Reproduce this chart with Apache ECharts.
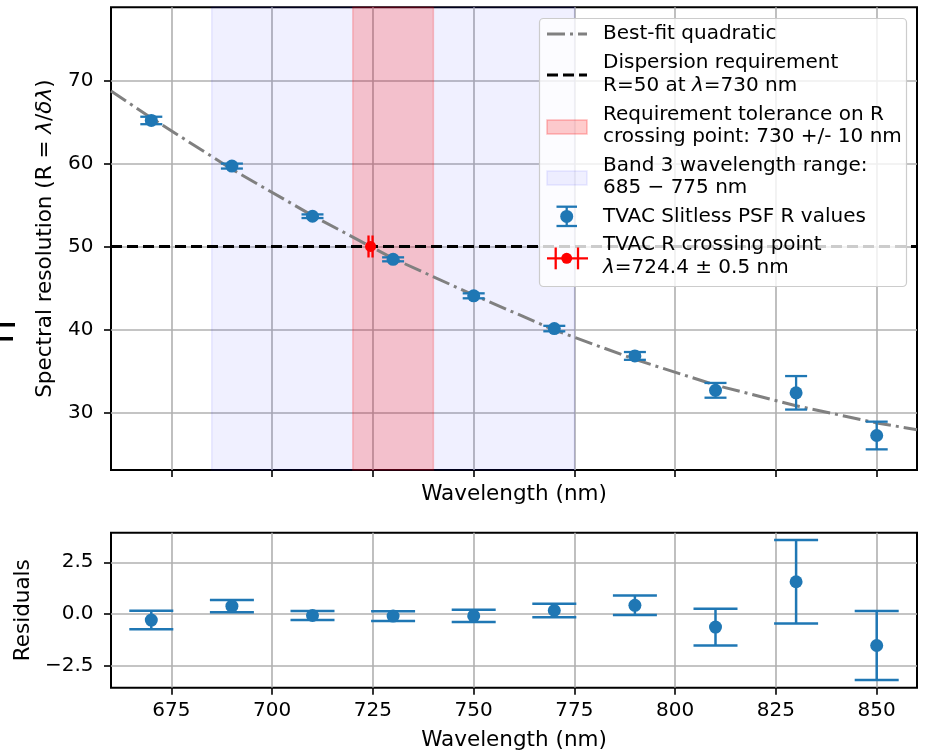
<!DOCTYPE html>
<html>
<head>
<meta charset="utf-8">
<script src="https://cdn.jsdelivr.net/npm/echarts@6/dist/echarts.min.js"></script>
<style>
  html, body { margin: 0; padding: 0; background: #fff; }
  #chart { width: 925px; height: 754px; }
</style>
</head>
<body>
<div id="chart"></div>
<script>
// Measured spectral resolution per wavelength (nm), with 1-sigma errors
const wavelengths = [670, 690, 710, 730, 750, 770, 790, 810, 830, 850];
const resolution = [65.2, 59.7, 53.65, 48.45, 44.05, 40.1, 36.8, 32.65, 32.35, 27.2];
const resolutionErr = [0.45, 0.3, 0.22, 0.24, 0.3, 0.33, 0.47, 0.89, 2.02, 1.67];
// Residuals of the measurements about the quadratic fit
const residuals = [-0.29, 0.38, -0.07, -0.1, -0.09, 0.17, 0.42, -0.63, 1.56, -1.52];
// Best-fit quadratic sampled across the plotted range
const fitWavelengths = [660, 670, 690, 710, 730, 750, 770, 790, 810, 830, 850, 860];
const fitValues = [68.75, 65.49, 59.32, 53.72, 48.55, 44.14, 39.93, 36.38, 33.28, 30.79, 28.72, 27.9];
// R = 50 crossing point
const crossingWavelength = [724.4];
const crossingErr = [0.5];
const crossingR = [50];
const requirementR = 50;
const toleranceBand = [720, 740];
const band3Range = [685, 775];
// Tick positions
const xTicks = [675, 700, 725, 750, 775, 800, 825, 850];
const yTicksTop = [30, 40, 50, 60, 70];
const yTicksResid = [-2.5, 0, 2.5];

const FONT = 'DejaVu Sans';
const BLUE = '#1f77b4';
const GRID_COLOR = '#b0b0b0';
const TICK_FS = 20;
const LABEL_FS = 21.5;
const LEGEND_FS = 20;

const chart = echarts.init(document.getElementById('chart'), null, { renderer: 'canvas' });

function verticalErrorBars(capHalf, lineWidth, color) {
  return function (params, api) {
    const x = api.value(0), y = api.value(1), e = api.value(2);
    const top = api.coord([x, y + e]);
    const bot = api.coord([x, y - e]);
    const style = { stroke: color, lineWidth: lineWidth, fill: null };
    return {
      type: 'group',
      children: [
        { type: 'line', shape: { x1: top[0], y1: top[1], x2: bot[0], y2: bot[1] }, style },
        { type: 'line', shape: { x1: top[0] - capHalf, y1: top[1], x2: top[0] + capHalf, y2: top[1] }, style },
        { type: 'line', shape: { x1: bot[0] - capHalf, y1: bot[1], x2: bot[0] + capHalf, y2: bot[1] }, style }
      ]
    };
  };
}

function horizontalErrorBar(capHalf, lineWidth, color) {
  return function (params, api) {
    const x = api.value(0), y = api.value(1), e = api.value(2);
    const l = api.coord([x - e, y]);
    const r = api.coord([x + e, y]);
    const style = { stroke: color, lineWidth: lineWidth, fill: null };
    return {
      type: 'group',
      children: [
        { type: 'line', shape: { x1: l[0], y1: l[1], x2: r[0], y2: r[1] }, style },
        { type: 'line', shape: { x1: l[0], y1: l[1] - capHalf, x2: l[0], y2: l[1] + capHalf }, style },
        { type: 'line', shape: { x1: r[0], y1: r[1] - capHalf, x2: r[0], y2: r[1] + capHalf }, style }
      ]
    };
  };
}

const tickStyle = { show: true, length: 7, inside: false, lineStyle: { color: '#000', width: 1.6 } };
const splitStyle = { show: true, lineStyle: { color: GRID_COLOR, width: 1.6 } };
const labelStyle = { color: '#000', fontFamily: FONT, fontSize: TICK_FS };
const nameStyle = {
  color: '#000', fontFamily: FONT, fontSize: LABEL_FS,
  rich: { i: { fontStyle: 'italic', fontFamily: FONT, fontSize: LABEL_FS, color: '#000' } }
};
const minus = v => (v < 0 ? '\u2212' : '') + Math.abs(v).toFixed(1);

// Legend drawn as a framed box of handles and labels
const LX = 547, LW = 40, TX = 603;
const legendText = (y, text) => ({
  type: 'text', x: TX, y: y,
  style: {
    text: text, font: LEGEND_FS + 'px "DejaVu Sans"', fill: '#000',
    verticalAlign: 'middle', align: 'left', lineHeight: 22.3,
    rich: { i: { fontStyle: 'italic', fontFamily: FONT, fontSize: LEGEND_FS, fill: '#000', lineHeight: 22.3 } }
  }
});
const legendItems = [
  { type: 'rect', shape: { x: 539.5, y: 18.5, width: 367, height: 268, r: 4 },
    style: { fill: 'rgba(255,255,255,0.8)', stroke: '#cccccc', lineWidth: 1.2 } },
  { type: 'line', shape: { x1: LX, y1: 34, x2: LX + LW, y2: 34 },
    style: { stroke: '#808080', lineWidth: 3, lineDash: [18, 5, 3, 5] } },
  legendText(34, 'Best-fit quadratic'),
  { type: 'line', shape: { x1: LX, y1: 75, x2: LX + LW, y2: 75 },
    style: { stroke: '#000', lineWidth: 3, lineDash: [11, 5] } },
  legendText(74.2, 'Dispersion requirement\nR=50 at {i|λ}=730 nm'),
  { type: 'rect', shape: { x: LX, y: 120, width: LW, height: 14 },
    style: { fill: 'rgba(255,0,0,0.2)', stroke: 'rgba(255,0,0,0.25)', lineWidth: 1.5 } },
  legendText(125.5, 'Requirement tolerance on R\ncrossing point: 730 +/- 10 nm'),
  { type: 'rect', shape: { x: LX, y: 171, width: LW, height: 14 },
    style: { fill: 'rgba(0,0,255,0.06)', stroke: 'rgba(0,0,255,0.08)', lineWidth: 1.5 } },
  legendText(176.5, 'Band 3 wavelength range:\n685 \u2212 775 nm'),
  { type: 'line', shape: { x1: 566.7, y1: 206.7, x2: 566.7, y2: 226 }, style: { stroke: BLUE, lineWidth: 2.3 } },
  { type: 'line', shape: { x1: 556.5, y1: 206.7, x2: 577, y2: 206.7 }, style: { stroke: BLUE, lineWidth: 2.3 } },
  { type: 'line', shape: { x1: 556.5, y1: 226, x2: 577, y2: 226 }, style: { stroke: BLUE, lineWidth: 2.3 } },
  { type: 'circle', shape: { cx: 566.7, cy: 216.4, r: 6.5 }, style: { fill: BLUE } },
  legendText(216.5, 'TVAC Slitless PSF R values'),
  { type: 'line', shape: { x1: LX, y1: 258.3, x2: LX + 41, y2: 258.3 }, style: { stroke: 'red', lineWidth: 2.3 } },
  { type: 'line', shape: { x1: 555.7, y1: 247.5, x2: 555.7, y2: 269.3 }, style: { stroke: 'red', lineWidth: 2.3 } },
  { type: 'line', shape: { x1: 578, y1: 247.5, x2: 578, y2: 269.3 }, style: { stroke: 'red', lineWidth: 2.3 } },
  { type: 'circle', shape: { cx: 566.7, cy: 258.3, r: 5.5 }, style: { fill: 'red' } },
  legendText(256.2, 'TVAC R crossing point\n{i|λ}=724.4 \u00b1 0.5 nm')
];
legendItems.forEach(el => { el.z = 100; });

const option = {
  animation: false,
  backgroundColor: '#fff',
  grid: [
    { left: 111, top: 7.3, width: 806, height: 462.7, show: true, borderColor: '#000', borderWidth: 2, backgroundColor: 'transparent' },
    { left: 111, top: 532.7, width: 806, height: 155, show: true, borderColor: '#000', borderWidth: 2, backgroundColor: 'transparent' }
  ],
  xAxis: [
    {
      gridIndex: 0, type: 'value', min: 660, max: 860,
      axisLine: { show: false, onZero: false },
      axisTick: Object.assign({ customValues: xTicks }, tickStyle),
      axisLabel: { show: false, customValues: xTicks },
      splitLine: splitStyle,
      name: 'Wavelength (nm)', nameLocation: 'middle', nameGap: 13,
      nameTextStyle: nameStyle
    },
    {
      gridIndex: 1, type: 'value', min: 660, max: 860,
      axisLine: { show: false, onZero: false },
      axisTick: Object.assign({ customValues: xTicks }, tickStyle),
      axisLabel: Object.assign({ customValues: xTicks, margin: 13.5 }, labelStyle),
      splitLine: splitStyle,
      name: 'Wavelength (nm)', nameLocation: 'middle', nameGap: 42,
      nameTextStyle: nameStyle
    }
  ],
  yAxis: [
    {
      gridIndex: 0, type: 'value', min: 23.04, max: 78.85,
      axisLine: { show: false, onZero: false },
      axisTick: Object.assign({ customValues: yTicksTop }, tickStyle),
      axisLabel: Object.assign({ customValues: yTicksTop, margin: 17.5 }, labelStyle),
      splitLine: splitStyle,
      name: 'Spectral resolution (R = {i|λ}/{i|δλ})', nameLocation: 'middle', nameGap: 55,
      nameTextStyle: nameStyle
    },
    {
      gridIndex: 1, type: 'value', min: -3.56, max: 3.93,
      axisLine: { show: false, onZero: false },
      axisTick: Object.assign({ customValues: yTicksResid }, tickStyle),
      axisLabel: Object.assign({ customValues: yTicksResid, margin: 17.5, formatter: minus }, labelStyle),
      splitLine: splitStyle,
      name: 'Residuals', nameLocation: 'middle', nameGap: 73,
      nameTextStyle: nameStyle
    }
  ],
  graphic: [
    { type: 'group', z: 100, children: legendItems },
    { type: 'rect', z: 100, shape: { x: 0, y: 323, width: 15, height: 3.5 }, style: { fill: '#000' } },
    { type: 'rect', z: 100, shape: { x: 0, y: 337, width: 13, height: 3.5 }, style: { fill: '#000' } }
  ],
  series: [
    {
      name: 'Bands', type: 'line', xAxisIndex: 0, yAxisIndex: 0, data: [], z: 1, silent: true,
      markArea: {
        silent: true,
        data: [
          [{ xAxis: band3Range[0], itemStyle: { color: 'rgba(0,0,255,0.06)', borderColor: 'rgba(0,0,255,0.08)', borderWidth: 1.5 } },
           { xAxis: band3Range[1] }],
          [{ xAxis: toleranceBand[0], itemStyle: { color: 'rgba(255,0,0,0.2)', borderColor: 'rgba(255,0,0,0.2)', borderWidth: 1.5 } },
           { xAxis: toleranceBand[1] }]
        ]
      }
    },
    {
      name: 'Best-fit quadratic', type: 'line', xAxisIndex: 0, yAxisIndex: 0, z: 3,
      data: fitWavelengths.map((w, i) => [w, fitValues[i]]),
      showSymbol: false, symbol: 'none', clip: true,
      lineStyle: { color: '#808080', width: 3, type: [18, 5, 3, 5] }
    },
    {
      name: 'Dispersion requirement', type: 'line', xAxisIndex: 0, yAxisIndex: 0, data: [], z: 4,
      markLine: {
        silent: true, symbol: 'none', label: { show: false },
        lineStyle: { color: '#000', width: 3, type: [11, 5] },
        data: [{ yAxis: requirementR }]
      }
    },
    {
      name: 'TVAC Slitless PSF R values (errors)', type: 'custom', xAxisIndex: 0, yAxisIndex: 0, z: 5,
      renderItem: verticalErrorBars(11, 2.3, BLUE),
      data: wavelengths.map((w, i) => [w, resolution[i], resolutionErr[i]])
    },
    {
      name: 'TVAC Slitless PSF R values', type: 'scatter', xAxisIndex: 0, yAxisIndex: 0, z: 6,
      symbolSize: 13, itemStyle: { color: BLUE, opacity: 1 },
      data: wavelengths.map((w, i) => [w, resolution[i]])
    },
    {
      name: 'TVAC R crossing point (errors)', type: 'custom', xAxisIndex: 0, yAxisIndex: 0, z: 7,
      renderItem: horizontalErrorBar(11, 2.3, 'red'),
      data: crossingWavelength.map((w, i) => [w, crossingR[i], crossingErr[i]])
    },
    {
      name: 'TVAC R crossing point', type: 'scatter', xAxisIndex: 0, yAxisIndex: 0, z: 8,
      symbolSize: 11, itemStyle: { color: 'red', opacity: 1 },
      data: crossingWavelength.map((w, i) => [w, crossingR[i]])
    },
    {
      name: 'Residual errors', type: 'custom', xAxisIndex: 1, yAxisIndex: 1, z: 5,
      renderItem: verticalErrorBars(22, 2.5, BLUE),
      data: wavelengths.map((w, i) => [w, residuals[i], resolutionErr[i]])
    },
    {
      name: 'Residuals', type: 'scatter', xAxisIndex: 1, yAxisIndex: 1, z: 6,
      symbolSize: 13, itemStyle: { color: BLUE, opacity: 1 },
      data: wavelengths.map((w, i) => [w, residuals[i]])
    }
  ]
};

chart.setOption(option);
</script>
</body>
</html>
